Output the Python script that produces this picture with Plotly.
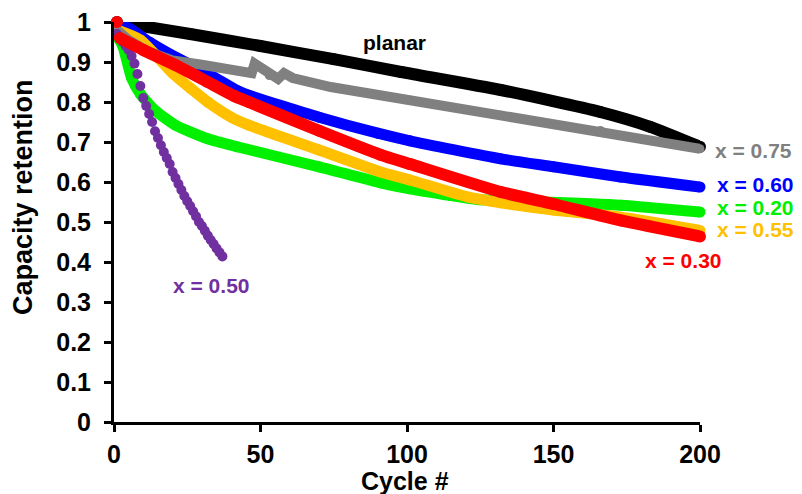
import plotly.graph_objects as go

# ---- data ----
planar_cycles = [1, 26, 50, 75, 98, 132, 166, 183, 200]
planar_vals = [1.0, 0.97, 0.94, 0.907, 0.875, 0.83, 0.775, 0.738, 0.688]

x075_cycles = [1, 5, 12, 20, 30, 42, 47, 48, 50, 53, 56, 58, 61, 74, 101, 132, 166, 200]
x075_vals = [0.98, 0.955, 0.925, 0.904, 0.893, 0.878, 0.872, 0.896, 0.886, 0.866, 0.858, 0.872,
             0.86, 0.8375, 0.804, 0.767, 0.729, 0.683]

x060_cycles = [1, 5, 12, 21, 32, 42, 46, 70, 90, 101, 132, 150, 173, 200]
x060_vals = [0.995, 0.985, 0.95, 0.912, 0.871, 0.829, 0.817, 0.762, 0.722, 0.703, 0.658, 0.638,
             0.6125, 0.5875]

x020_cycles = [1, 3, 6, 9, 14, 21, 32, 42, 70, 91, 101, 115, 124, 140, 173, 200]
x020_vals = [0.965, 0.94, 0.86, 0.82, 0.779, 0.742, 0.708, 0.688, 0.638, 0.598, 0.583, 0.566,
             0.556, 0.552, 0.542, 0.525]

x055_cycles = [1, 9, 20, 26, 32, 40, 46, 70, 91, 101, 121, 132, 150, 173, 200]
x055_vals = [0.98, 0.955, 0.872, 0.835, 0.80, 0.762, 0.742, 0.68, 0.625, 0.605, 0.562, 0.548,
             0.53, 0.512, 0.479]

x030_cycles = [1, 2, 10, 21, 32, 41, 46, 70, 91, 101, 132, 150, 173, 200]
x030_vals = [1.0, 0.96, 0.93, 0.892, 0.85, 0.815, 0.80, 0.728, 0.668, 0.645, 0.575, 0.545,
             0.504, 0.464]

x050_cycles = list(range(1, 38))
x050_vals = [0.97, 0.96, 0.95, 0.94, 0.93, 0.915, 0.896, 0.87, 0.84, 0.81, 0.79, 0.77, 0.75,
             0.727, 0.71, 0.692, 0.675, 0.66, 0.645, 0.625, 0.61, 0.595, 0.58, 0.565, 0.552,
             0.54, 0.527, 0.514, 0.50, 0.49, 0.478, 0.466, 0.455, 0.445, 0.434, 0.424, 0.414]

x_ticks = [0, 50, 100, 150, 200]
x_tick_labels = ["0", "50", "100", "150", "200"]
y_ticks = [0, 0.1, 0.2, 0.3, 0.4, 0.5, 0.6, 0.7, 0.8, 0.9, 1.0]
y_tick_labels = ["0", "0.1", "0.2", "0.3", "0.4", "0.5", "0.6", "0.7", "0.8", "0.9", "1"]

labels = ["planar", "x = 0.75", "x = 0.60", "x = 0.20", "x = 0.55", "x = 0.30", "x = 0.50"]

# ---- styles ----
FONT = "Liberation Sans, Arial, sans-serif"
BLACK = "#000000"
GRAY = "#808080"
BLUE = "#0000FF"
GREEN = "#00F000"
YELLOW = "#FFC000"
RED = "#FF0000"
PURPLE = "#7030A0"

L, R, T, B = 114, 102, 22, 72
W, H = 802, 494
pw, ph = W - L - R, H - T - B
X0, X1, Y0, Y1 = 0, 200, 0, 1


def data_to_paper(xv, yv):
    return (xv - X0) / (X1 - X0), (yv - Y0) / (Y1 - Y0)


def px_to_paper(px, py):
    return (px - L) / pw, 1 - (py - T) / ph


fig = go.Figure()


def band(xs, ys, color, width=11, shape="spline", msize=None):
    fig.add_trace(go.Scatter(
        x=xs, y=ys, mode="lines+markers",
        line=dict(color=color, width=width, shape=shape, smoothing=0.6),
        marker=dict(color=color, size=msize or width, line=dict(width=0)),
        cliponaxis=False, showlegend=False, hoverinfo="skip"))


band(planar_cycles, planar_vals, BLACK, 12)
band(x060_cycles, x060_vals, BLUE, 11)
band(x020_cycles, x020_vals, GREEN, 11)
band(x055_cycles, x055_vals, YELLOW, 11)
band(x075_cycles, x075_vals, GRAY, 10, shape="linear", msize=9)

fig.add_trace(go.Scatter(
    x=x050_cycles, y=x050_vals, mode="markers",
    marker=dict(color=PURPLE, size=10, line=dict(width=0)),
    cliponaxis=False, showlegend=False, hoverinfo="skip"))

band(x030_cycles[1:], x030_vals[1:], RED, 12)
fig.add_trace(go.Scatter(
    x=x030_cycles[:1], y=x030_vals[:1], mode="markers",
    marker=dict(color=RED, size=12, line=dict(width=0)),
    cliponaxis=False, showlegend=False, hoverinfo="skip"))

# ---- labels (positions in data units, converted to paper) ----
label_specs = [
    (labels[0], 95.9, 0.949, BLACK, "center"),
    (labels[1], 204.5, 0.679, GRAY, "left"),
    (labels[2], 205.0, 0.594, BLUE, "left"),
    (labels[3], 205.0, 0.537, GREEN, "left"),
    (labels[4], 205.0, 0.481, YELLOW, "left"),
    (labels[5], 180.5, 0.404, RED, "left"),
    (labels[6], 19.5, 0.342, PURPLE, "left"),
]
for text, xv, yv, col, anc in label_specs:
    ax_, ay_ = data_to_paper(xv, yv)
    fig.add_annotation(x=ax_, y=ay_, xref="paper", yref="paper", text=text, showarrow=False,
                       xanchor=anc, yanchor="middle",
                       font=dict(family=FONT, size=21, weight="bold", color=col))

cx, cy = px_to_paper(405, 481)
fig.add_annotation(x=cx, y=cy, xref="paper", yref="paper", text="Cycle #",
                   showarrow=False, xanchor="center", yanchor="middle",
                   font=dict(family=FONT, size=25, weight="bold", color="black"))
tx, ty = px_to_paper(23, 197)
fig.add_annotation(x=tx, y=ty, xref="paper", yref="paper", text="Capacity retention",
                   showarrow=False, textangle=-90, xanchor="center", yanchor="middle",
                   font=dict(family=FONT, size=27, weight="bold", color="black"))

axis_common = dict(
    showline=True, linecolor="black", linewidth=3,
    ticks="outside", ticklen=7, tickwidth=3, tickcolor="black",
    showgrid=False, zeroline=False, automargin=False,
    tickfont=dict(family=FONT, size=25, weight="bold", color="black"),
)

fig.update_xaxes(range=[X0, X1], tickvals=x_ticks, ticktext=x_tick_labels,
                 ticklabelstandoff=1, **axis_common)
fig.update_yaxes(range=[Y0, Y1], tickvals=y_ticks, ticktext=y_tick_labels,
                 ticklabelstandoff=8, **axis_common)

fig.update_layout(
    width=W, height=H,
    margin=dict(l=L, r=R, t=T, b=B, pad=0, autoexpand=False),
    plot_bgcolor="white", paper_bgcolor="white",
    showlegend=False,
)

fig.write_html("out.html", config={"displayModeBar": False},
               post_script="document.body.style.margin='0';document.body.style.overflow='hidden';")
